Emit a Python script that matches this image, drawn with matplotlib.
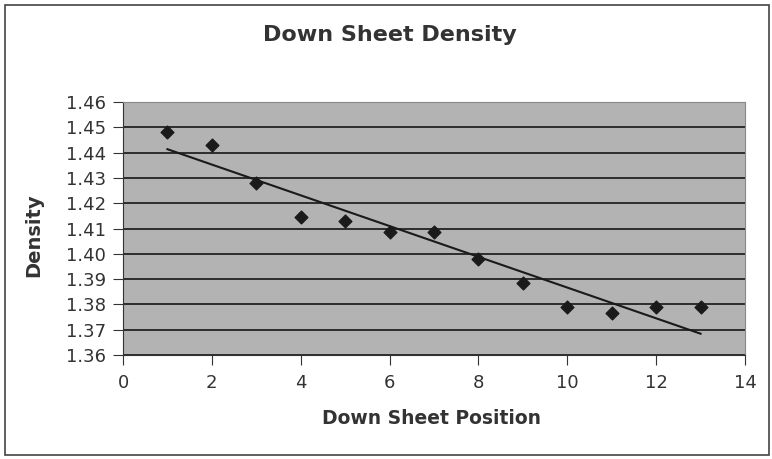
import numpy as np
import matplotlib
matplotlib.use("Agg")
import matplotlib.pyplot as plt
from matplotlib.patches import Rectangle

positions = [1, 2, 3, 4, 5, 6, 7, 8, 9, 10, 11, 12, 13]
density = [1.448, 1.443, 1.428, 1.4145, 1.413, 1.4085, 1.4085, 1.398, 1.3885, 1.379, 1.3765, 1.379, 1.379]
x_ticks = [0, 2, 4, 6, 8, 10, 12, 14]
y_ticks = [1.36, 1.37, 1.38, 1.39, 1.40, 1.41, 1.42, 1.43, 1.44, 1.45, 1.46]

plt.rcParams['font.family'] = ['DejaVu Sans']

fig = plt.figure(figsize=(7.72, 4.59), dpi=100)
fig.patch.set_facecolor('white')
fig.patches.append(Rectangle((5/772, 4/459), 764/772, 450/459, transform=fig.transFigure,
                             fill=False, edgecolor='#444444', linewidth=1.2))

ax = fig.add_axes([123/772, 1 - 355/459, 622/772, 253/459])
ax.set_facecolor('#b3b3b3')

ax.scatter(positions, density, marker='D', s=42, color='#1a1a1a', zorder=3)
coef = np.polyfit(positions, density, 1)
xs = np.array([positions[0], positions[-1]])
ax.plot(xs, np.polyval(coef, xs), color='#1a1a1a', linewidth=1.5, zorder=2)

ax.set_xlim(0, 14)
ax.set_ylim(1.36, 1.46)
ax.set_xticks(x_ticks)
ax.set_yticks(y_ticks)
ax.set_yticklabels([f"{v:.2f}" for v in y_ticks])
ax.yaxis.grid(True, color='#222222', linewidth=1.3)
ax.set_axisbelow(True)
for s in ['top', 'right']:
    ax.spines[s].set_color('#888888')
for s in ['left', 'bottom']:
    ax.spines[s].set_color('#333333')
ax.tick_params(axis='both', labelsize=13, colors='#333333', length=7, direction='out')
ax.tick_params(axis='y', pad=5)
ax.tick_params(axis='x', pad=7)

fig.text(390/772, 1 - 35/459, 'Down Sheet Density', ha='center', va='center',
         fontsize=16, fontweight='bold', color='#333333')
fig.text(432/772, 1 - 419/459, 'Down Sheet Position', ha='center', va='center',
         fontsize=13.5, fontweight='bold', color='#333333')
fig.text(34/772, 1 - 235/459, 'Density', ha='center', va='center', rotation=90,
         fontsize=14, fontweight='bold', color='#333333')

fig.savefig('out.png', dpi=100, facecolor='white')
